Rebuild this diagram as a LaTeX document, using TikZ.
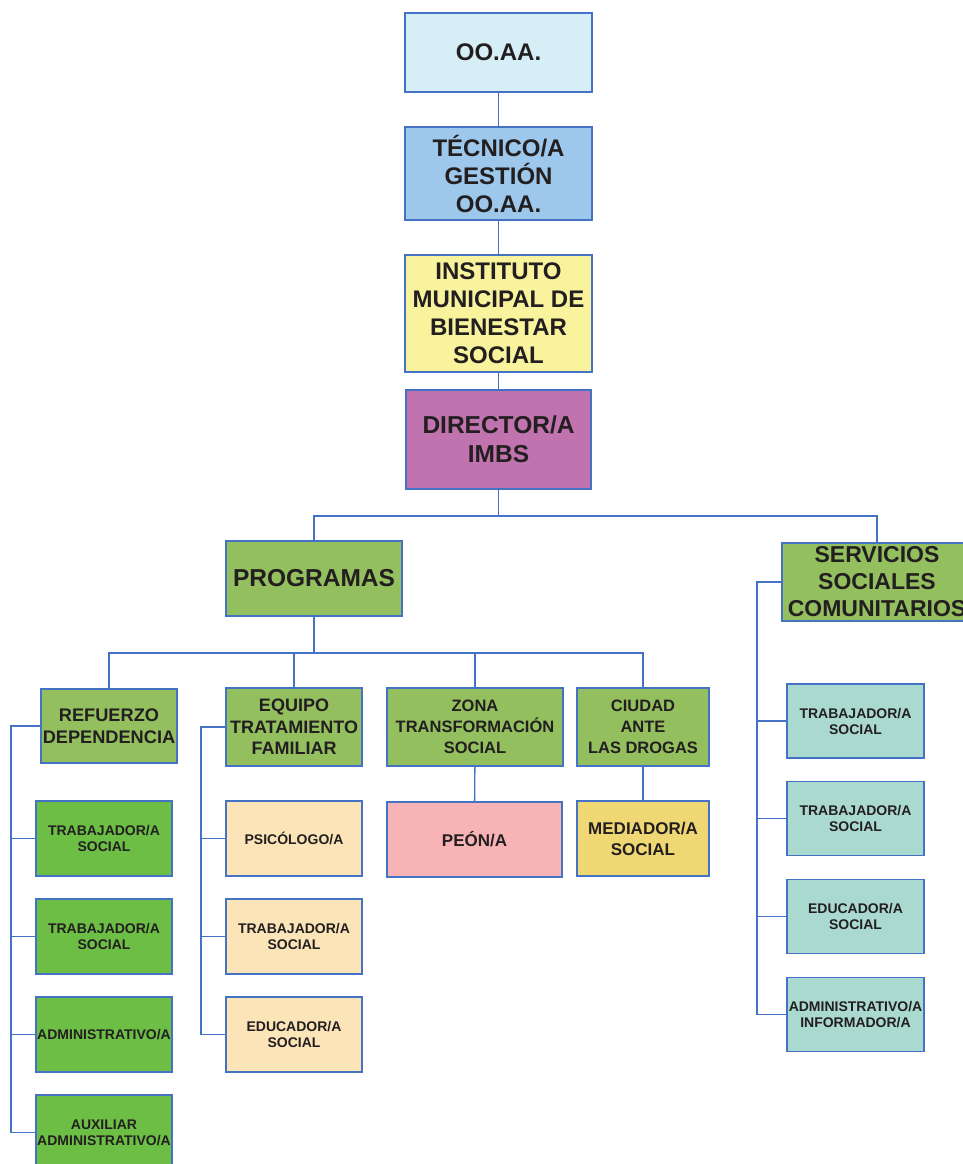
\documentclass[tikz,border=0pt]{standalone}
\usepackage{fontspec}
\setmainfont{Liberation Sans}
\definecolor{lnc}{HTML}{4472C4}
\definecolor{txc}{HTML}{231F20}
\definecolor{cOO}{HTML}{D6EEF5}
\definecolor{cTec}{HTML}{9DC8EB}
\definecolor{cInst}{HTML}{F8F39C}
\definecolor{cDir}{HTML}{C073AE}
\definecolor{cGr}{HTML}{93BF5E}
\definecolor{cBr}{HTML}{6CBE45}
\definecolor{cCr}{HTML}{FBE5B8}
\definecolor{cPk}{HTML}{F8B3B6}
\definecolor{cYl}{HTML}{EFD873}
\definecolor{cTl}{HTML}{AADACF}
\tikzset{
  box/.style={draw=lnc, line width=1.2pt, rectangle, inner sep=0pt, align=center, text=txc},
  bigt/.style={font={\fontsize{24}{28}\selectfont\bfseries}},
  midt/.style={font={\fontsize{18.2}{21.5}\selectfont\bfseries}},
  smlt/.style={font={\fontsize{16.5}{21}\selectfont\bfseries}},
  tinyt/.style={font={\fontsize{14}{16}\selectfont\bfseries}},
  conn/.style={draw=lnc, line width=1.4pt}
}
\begin{document}
\begin{tikzpicture}[x=1pt,y=-1pt]
\useasboundingbox (0,0) rectangle (962,1164);
% top chain
\node[box,bigt,fill=cOO,minimum width=187pt,minimum height=79pt] (oo) at (498.5,52.5) {OO.AA.};
\node[box,bigt,fill=cTec,minimum width=187pt,minimum height=93pt] (tec) at (498.5,173.5) {TÉCNICO/A\\GESTIÓN\\OO.AA.};
\node[box,bigt,fill=cInst,minimum width=187pt,minimum height=117pt] (inst) at (498.5,313.5) {INSTITUTO\\MUNICIPAL DE\\BIENESTAR\\SOCIAL};
\node[box,bigt,fill=cDir,minimum width=185pt,minimum height=99pt,font={\fontsize{24.5}{29}\selectfont\bfseries}] (dir) at (498.5,439.5) {DIRECTOR/A\\IMBS};
% level 2
\node[box,fill=cGr,minimum width=176pt,minimum height=75pt,font={\fontsize{24.5}{28}\selectfont\bfseries}] (prog) at (314,578.5) {PROGRAMAS};
\node[box,fill=cGr,minimum width=190pt,minimum height=78pt,font={\fontsize{23}{27}\selectfont\bfseries}] (ssc) at (877,582) {SERVICIOS\\SOCIALES\\COMUNITARIOS};
% level 3
\node[box,midt,fill=cGr,minimum width=136pt,minimum height=74pt] (ref) at (109,726) {REFUERZO\\DEPENDENCIA};
\node[box,fill=cGr,minimum width=136pt,minimum height=78pt,font={\fontsize{18}{21.3}\selectfont\bfseries}] (eq) at (294,727) {EQUIPO\\TRATAMIENTO\\FAMILIAR};
\node[box,smlt,fill=cGr,minimum width=176pt,minimum height=78pt] (zo) at (475,727) {ZONA\\TRANSFORMACIÓN\\SOCIAL};
\node[box,smlt,fill=cGr,minimum width=132pt,minimum height=78pt] (cd) at (643,727) {CIUDAD\\ANTE\\LAS DROGAS};
\node[box,fill=cPk,minimum width=175pt,minimum height=75pt,font={\fontsize{17}{21}\selectfont\bfseries}] (peon) at (474.5,839.5) {PEÓN/A};
\node[box,fill=cYl,minimum width=132pt,minimum height=75pt,font={\fontsize{17}{21}\selectfont\bfseries}] (med) at (643,838.5) {MEDIADOR/A\\SOCIAL};
% refuerzo children
\node[box,tinyt,fill=cBr,minimum width=136pt,minimum height=75pt] (r1) at (104,838.5) {TRABAJADOR/A\\SOCIAL};
\node[box,tinyt,fill=cBr,minimum width=136pt,minimum height=75pt] (r2) at (104,936.5) {TRABAJADOR/A\\SOCIAL};
\node[box,tinyt,fill=cBr,minimum width=136pt,minimum height=75pt] (r3) at (104,1034.5) {ADMINISTRATIVO/A};
\node[box,tinyt,fill=cBr,minimum width=136pt,minimum height=75pt] (r4) at (104,1132.5) {AUXILIAR\\ADMINISTRATIVO/A};
% equipo children
\node[box,tinyt,fill=cCr,minimum width=136pt,minimum height=75pt] (e1) at (294,838.5) {PSICÓLOGO/A};
\node[box,tinyt,fill=cCr,minimum width=136pt,minimum height=75pt] (e2) at (294,936.5) {TRABAJADOR/A\\SOCIAL};
\node[box,tinyt,fill=cCr,minimum width=136pt,minimum height=75pt] (e3) at (294,1034.5) {EDUCADOR/A\\SOCIAL};
% ssc children
\node[box,tinyt,fill=cTl,minimum width=137pt,minimum height=74pt] (s1) at (855.5,721) {TRABAJADOR/A\\SOCIAL};
\node[box,tinyt,fill=cTl,minimum width=137pt,minimum height=74pt] (s2) at (855.5,818.5) {TRABAJADOR/A\\SOCIAL};
\node[box,tinyt,fill=cTl,minimum width=137pt,minimum height=74pt] (s3) at (855.5,916.5) {EDUCADOR/A\\SOCIAL};
\node[box,tinyt,fill=cTl,minimum width=137pt,minimum height=74pt] (s4) at (855.5,1014.5) {ADMINISTRATIVO/A\\INFORMADOR/A};
% connectors
\draw[conn] (oo) -- (tec);
\draw[conn] (tec) -- (inst);
\draw[conn] (inst) -- (dir);
\coordinate (b1) at (498.5,516);
\draw[conn] (dir) -- (b1);
\draw[conn] (prog.north) |- (b1) -| (ssc.north);
\coordinate (b2) at (314,653);
\draw[conn] (prog) -- (b2);
\draw[conn] (ref.north) -- (ref.north |- b2) -- (cd.north |- b2) -- (cd.north);
\draw[conn] (eq.north) -- (eq.north |- b2);
\draw[conn] (zo.north) -- (zo.north |- b2);
\draw[conn] (zo) -- (peon);
\draw[conn] (cd) -- (med);
% refuerzo tree
\coordinate (rl) at (11,726);
\draw[conn] (ref.west) -- (rl) |- (r4.west);
\draw[conn] (r1.west) -- (r1.west -| rl);
\draw[conn] (r2.west) -- (r2.west -| rl);
\draw[conn] (r3.west) -- (r3.west -| rl);
% equipo tree
\coordinate (el) at (201,727);
\draw[conn] (eq.west) -- (el) |- (e3.west);
\draw[conn] (e1.west) -- (e1.west -| el);
\draw[conn] (e2.west) -- (e2.west -| el);
% ssc tree
\coordinate (sl) at (757,582);
\draw[conn] (ssc.west) -- (sl) |- (s4.west);
\draw[conn] (s1.west) -- (s1.west -| sl);
\draw[conn] (s2.west) -- (s2.west -| sl);
\draw[conn] (s3.west) -- (s3.west -| sl);
\end{tikzpicture}
\end{document}
